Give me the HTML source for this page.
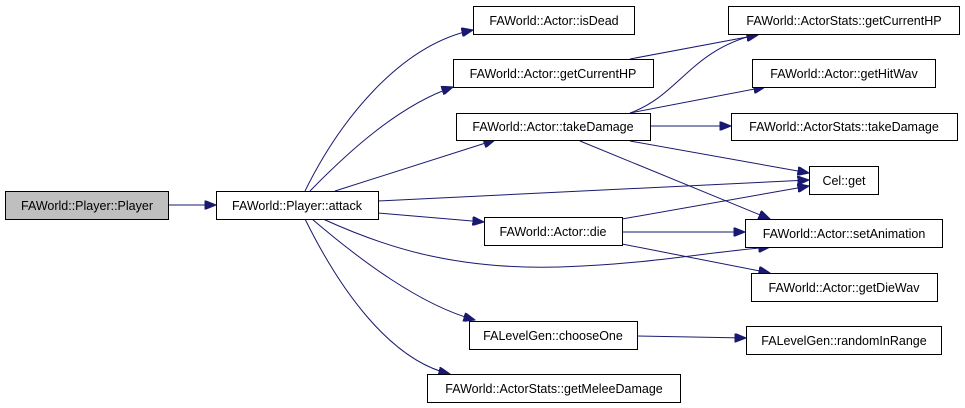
<!DOCTYPE html>
<html><head><meta charset="utf-8"><style>
html,body{margin:0;padding:0;background:#fff;}
svg{display:block;}
text{font-family:"Liberation Sans",sans-serif;font-size:12.5px;fill:#000;}
</style></head><body>
<svg width="965" height="408" viewBox="0 0 965 408" xmlns="http://www.w3.org/2000/svg">
<defs>
<marker id="a" viewBox="0 0 10 8" refX="10" refY="4" markerWidth="12" markerHeight="9" markerUnits="userSpaceOnUse" orient="auto">
<path d="M0,0 L10,4 L0,8 Z" fill="#191970" stroke="#191970"/>
</marker>
</defs>
<g fill="none" stroke="#191970" stroke-width="1" marker-end="url(#a)">
<path d="M168,205 L216,205"/>
<path d="M305,191 C340,120 400,45 473,30"/>
<path d="M310,191 C350,150 400,105 453,87"/>
<path d="M335,191 L495,140"/>
<path d="M378,201 L809,180"/>
<path d="M378,213 L484,222"/>
<path d="M323,219 C380,245 450,270 560,267 C650,264 700,253 770,247"/>
<path d="M312,219 C360,260 420,305 475,320"/>
<path d="M305,219 C340,290 390,360 450,374"/>
<path d="M630,113 C680,95 690,50 758,34"/>
<path d="M630,59 L758,35"/>
<path d="M630,113 L765,87"/>
<path d="M650,126 L731,126"/>
<path d="M630,141 L809,173"/>
<path d="M580,141 L770,219"/>
<path d="M622,219 L809,186"/>
<path d="M622,232 L745,232"/>
<path d="M622,244 L770,273"/>
<path d="M637,336 L746,338"/>
</g>
<g stroke="#000" stroke-width="1">
<rect x="5.5" y="191.5" width="163" height="28" fill="#bfbfbf"/>
<rect x="216.5" y="191.5" width="162" height="28" fill="#fff"/>
<rect x="473.5" y="6.5" width="161" height="28" fill="#fff"/>
<rect x="453.5" y="59.5" width="200" height="28" fill="#fff"/>
<rect x="456.5" y="113.5" width="194" height="27" fill="#fff"/>
<rect x="484.5" y="217.5" width="138" height="28" fill="#fff"/>
<rect x="469.5" y="321.5" width="168" height="28" fill="#fff"/>
<rect x="427.5" y="374.5" width="253" height="28" fill="#fff"/>
<rect x="728.5" y="6.5" width="231" height="28" fill="#fff"/>
<rect x="752.5" y="59.5" width="183" height="28" fill="#fff"/>
<rect x="731.5" y="113.5" width="226" height="27" fill="#fff"/>
<rect x="809.5" y="166.5" width="69" height="28" fill="#fff"/>
<rect x="745.5" y="219.5" width="197" height="28" fill="#fff"/>
<rect x="751.5" y="273.5" width="186" height="28" fill="#fff"/>
<rect x="746.5" y="326.5" width="195" height="28" fill="#fff"/>
</g>
<g text-anchor="middle">
<text x="87" y="210">FAWorld::Player::Player</text>
<text x="297" y="210">FAWorld::Player::attack</text>
<text x="554" y="25">FAWorld::Actor::isDead</text>
<text x="553" y="78">FAWorld::Actor::getCurrentHP</text>
<text x="553" y="131">FAWorld::Actor::takeDamage</text>
<text x="553" y="236">FAWorld::Actor::die</text>
<text x="553" y="340">FALevelGen::chooseOne</text>
<text x="554" y="393">FAWorld::ActorStats::getMeleeDamage</text>
<text x="844" y="25">FAWorld::ActorStats::getCurrentHP</text>
<text x="844" y="78">FAWorld::Actor::getHitWav</text>
<text x="844" y="131">FAWorld::ActorStats::takeDamage</text>
<text x="844" y="185">Cel::get</text>
<text x="844" y="238">FAWorld::Actor::setAnimation</text>
<text x="844" y="292">FAWorld::Actor::getDieWav</text>
<text x="844" y="345">FALevelGen::randomInRange</text>
</g>
</svg>
</body></html>
